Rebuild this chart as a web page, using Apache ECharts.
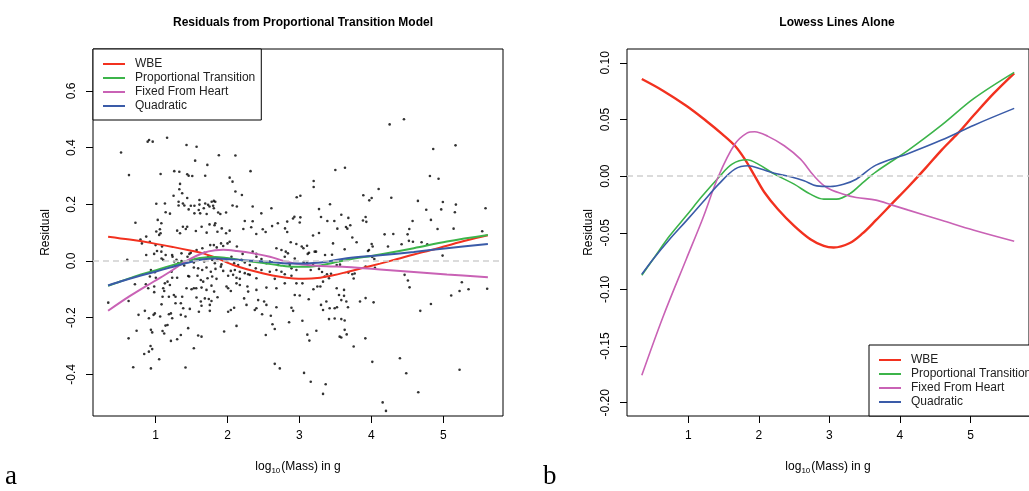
<!DOCTYPE html>
<html>
<head>
<meta charset="utf-8">
<script src="https://cdn.jsdelivr.net/npm/echarts@6/dist/echarts.min.js"></script>
<style>
html, body { margin: 0; padding: 0; background: #ffffff; }
#chart { width: 1029px; height: 491px; }
</style>
</head>
<body>
<div id="chart"></div>
<script>
const SERIES_META = {
  wbe: { label: 'WBE', color: '#f2311f' },
  prop: { label: 'Proportional Transition', color: '#3cb44a' },
  heart: { label: 'Fixed From Heart', color: '#c962b5' },
  quad: { label: 'Quadratic', color: '#3a5ba8' }
}

const xTicks = [1, 2, 3, 4, 5]
const leftYTicks = [-0.4, -0.2, 0, 0.2, 0.4, 0.6]
const rightYTicks = [-0.2, -0.15, -0.1, -0.05, 0, 0.05, 0.1]

// residuals vs log10 mass
const residualPoints = [
  [0.52,0.383],[0.63,0.303],[0.89,0.421],[0.91,0.427],[0.96,0.421],[1.16,0.435],[1.43,0.409],[1.57,0.403],[1.55,0.354],[1.88,0.373],
  [2.11,0.372],[1.72,0.339],[1.07,0.307],[1.26,0.317],[1.33,0.315],[1.44,0.306],[1.46,0.301],[1.51,0.300],[1.69,0.301],[2.03,0.294],
  [2.07,0.280],[1.34,0.272],[2.32,0.317],[2.11,0.245],[2.20,0.233],[1.33,0.253],[1.25,0.230],[1.37,0.239],[1.44,0.222],[1.01,0.202],
  [1.13,0.203],[1.32,0.209],[1.38,0.203],[1.32,0.196],[1.40,0.196],[1.49,0.195],[1.54,0.195],[1.61,0.215],[1.61,0.199],[1.69,0.203],
  [1.67,0.186],[1.73,0.198],[1.75,0.192],[1.78,0.209],[1.81,0.212],[1.83,0.209],[1.80,0.195],[1.81,0.186],[2.07,0.196],[2.13,0.192],
  [2.35,0.192],[2.61,0.186],[2.47,0.168],[1.14,0.172],[1.20,0.167],[1.03,0.145],[1.08,0.133],[0.72,0.135],[1.54,0.168],[1.46,0.182],
  [1.60,0.180],[1.62,0.168],[1.71,0.166],[1.87,0.171],[1.90,0.166],[1.98,0.171],[2.24,0.141],[2.35,0.140],[2.70,0.133],[2.83,0.139],
  [1.01,0.104],[1.06,0.112],[1.05,0.092],[1.07,0.098],[1.30,0.107],[1.34,0.098],[1.38,0.121],[1.42,0.113],[1.44,0.121],[1.56,0.106],
  [1.64,0.121],[1.71,0.100],[1.75,0.129],[1.82,0.126],[1.86,0.103],[1.83,0.133],[1.92,0.115],[1.98,0.098],[2.03,0.107],[2.22,0.113],
  [2.33,0.119],[2.40,0.095],[2.49,0.112],[2.53,0.102],[2.62,0.123],[2.80,0.115],[2.83,0.102],[0.87,0.086],[0.79,0.076],
  [0.81,0.062],[0.92,0.068],[1.00,0.056],[1.09,0.051],[1.02,0.035],[1.08,0.033],[0.87,0.021],[0.98,0.025],[1.14,0.021],[1.23,0.021],
  [1.36,0.027],[1.47,0.025],[1.49,0.029],[1.57,0.039],[1.65,0.045],[1.68,0.029],[1.81,0.056],[1.85,0.048],[1.76,0.056],[1.91,0.062],
  [1.94,0.053],[2.00,0.062],[2.03,0.068],[2.13,0.051],[2.21,0.025],[2.35,0.033],[2.40,0.025],[2.68,0.045],[2.75,0.039],[2.81,0.033],[2.84,0.027],
  [0.606,0.004],[1.083,0.009],[1.106,0.004],[1.236,0.015],[1.259,-0.002],[1.291,0.004],[1.314,-0.008],[1.361,0.0],[1.407,-0.002],[1.444,0.015],
  [1.532,-0.005],[1.532,-0.023],[0.935,-0.032],[0.99,-0.040],[1.222,-0.038],[1.268,-0.014],[1.338,-0.012],[1.398,-0.016],[1.004,-0.059],[0.713,-0.082],
  [0.865,-0.082],[0.898,-0.096],[0.921,-0.055],[0.981,-0.090],[1.129,-0.079],[1.166,-0.073],[1.106,-0.096],[1.12,-0.106],[1.199,-0.085],[1.231,-0.059],
  [1.3,-0.059],[1.254,-0.120],[1.277,-0.126],[1.185,-0.126],[1.453,-0.053],[1.467,-0.055],[1.5,-0.100],[1.532,-0.096],[1.43,-0.096],[1.37,-0.126],
  [0.981,-0.110],[1.097,-0.126],[0.342,-0.147],[0.625,-0.141],[1.083,-0.153],[1.277,-0.149],[1.351,-0.149],[1.384,-0.167],[1.476,-0.169],[0.851,-0.176],
  [0.763,-0.190],[0.907,-0.202],[0.972,-0.190],[0.99,-0.185],[1.064,-0.196],[1.185,-0.188],[1.213,-0.185],[1.231,-0.202],[1.351,-0.190],[1.416,-0.196],
  [1.166,-0.226],[1.138,-0.228],[1.453,-0.237],[0.736,-0.246],[0.935,-0.243],[0.953,-0.252],[1.097,-0.247],[1.12,-0.256],[0.625,-0.273],[1.213,-0.282],
  [1.3,-0.276],[1.351,-0.261],[1.532,-0.308],[0.93,-0.300],[0.953,-0.311],[0.907,-0.320],[0.842,-0.328],[1.05,-0.347],[0.689,-0.375],[0.935,-0.379],[1.416,-0.376],
  [1.569,0.004],[1.615,0.009],[1.676,-0.002],[1.731,0.015],[1.787,0.004],[1.824,-0.008],[1.861,0.007],[1.916,-0.012],[1.986,-0.002],[2.055,0.015],
  [2.092,-0.008],[2.148,-0.014],[2.194,0.004],[2.24,-0.005],[2.31,-0.014],[2.356,0.0],[2.402,0.015],[2.472,0.007],[2.541,-0.008],[2.588,-0.002],
  [2.703,-0.014],[2.796,0.015],[2.865,-0.014],[2.935,0.009],[1.592,-0.026],[1.648,-0.032],[1.708,-0.023],[1.768,-0.038],[1.833,-0.028],[1.907,-0.020],
  [1.94,-0.035],[2.046,-0.035],[2.102,-0.032],[2.171,-0.038],[2.24,-0.043],[2.31,-0.049],[2.393,-0.026],[2.472,-0.032],[2.588,-0.038],[2.68,-0.032],
  [2.75,-0.038],[2.889,-0.026],[2.958,-0.032],[1.583,-0.052],[1.629,-0.067],[1.662,-0.073],[1.722,-0.061],[1.787,-0.055],[1.847,-0.063],[2.009,-0.052],
  [2.078,-0.049],[2.125,-0.059],[2.171,-0.063],[2.287,-0.047],[2.402,-0.061],[2.657,-0.063],[2.796,-0.047],[2.889,-0.052],[1.565,-0.096],[1.639,-0.094],
  [1.708,-0.102],[1.777,-0.087],[1.814,-0.108],[1.986,-0.090],[2.009,-0.096],[2.046,-0.106],[2.125,-0.079],[2.171,-0.085],[2.277,-0.090],[2.402,-0.102],
  [2.541,-0.094],[2.68,-0.096],[2.796,-0.079],[2.958,-0.079],[1.569,-0.129],[1.629,-0.143],[1.685,-0.132],[1.74,-0.134],[1.777,-0.141],[1.861,-0.128],
  [1.754,-0.155],[1.639,-0.158],[2.009,-0.179],[2.046,-0.173],[2.092,-0.165],[2.231,-0.132],[2.264,-0.155],[2.426,-0.138],[2.509,-0.143],[2.541,-0.155],
  [1.602,-0.179],[1.754,-0.176],[2.287,-0.108],[2.379,-0.173],[2.402,-0.167],[2.481,-0.188],[2.602,-0.193],[2.68,-0.163],[2.889,-0.165],[2.912,-0.176],
  [2.935,-0.120],[2.125,-0.229],[1.953,-0.249],[2.532,-0.261],[2.625,-0.223],[2.657,-0.240],[2.856,-0.216],[1.592,-0.263],[1.639,-0.267],[2.657,-0.363],[2.727,-0.379],
  [4.254,0.482],[4.453,0.500],[4.86,0.395],[5.17,0.408],[3.499,0.321],[3.633,0.329],[3.198,0.282],[3.198,0.261],[4.814,0.300],[4.934,0.290],
  [2.962,0.225],[3.013,0.230],[3.888,0.232],[4.101,0.254],[4.004,0.222],[3.971,0.214],[4.277,0.223],[4.647,0.212],[3.425,0.200],[3.272,0.183],
  [4.763,0.181],[4.994,0.208],[5.175,0.199],[4.971,0.182],[5.161,0.172],[5.587,0.186],[2.911,0.150],[2.93,0.156],[3.013,0.154],[3.004,0.136],
  [3.3,0.155],[3.388,0.141],[3.485,0.141],[3.582,0.163],[3.68,0.152],[3.883,0.143],[3.92,0.155],[3.93,0.138],[4.573,0.141],[4.828,0.145],
  [3.189,0.090],[3.272,0.099],[3.527,0.114],[3.647,0.120],[3.666,0.114],[3.707,0.126],[3.735,0.083],[4.184,0.094],[4.305,0.095],[4.504,0.094],
  [4.527,0.113],[4.92,0.113],[5.143,0.114],[5.541,0.105],
  [3.795,0.066],[4.522,0.071],[4.578,0.068],[4.698,0.066],[4.777,0.059],[4.42,0.059],[4.231,0.051],[4.004,0.060],[4.018,0.051],[3.953,0.035],
  [3.967,0.039],[3.629,0.041],[3.467,0.062],[3.231,0.033],[2.957,0.060],[2.879,0.066],[3.032,0.051],[3.055,0.045],[3.106,0.054],[3.133,0.029],
  [3.212,0.033],[3.356,0.021],[3.115,0.025],[3.059,-0.005],[3.106,-0.006],[3.157,-0.032],[3.189,-0.014],[3.272,-0.028],[3.314,-0.039],[3.351,-0.055],
  [3.383,-0.047],[3.411,-0.061],[3.439,-0.045],[3.453,0.022],[3.518,-0.014],[3.564,-0.013],[3.68,-0.041],[3.735,-0.047],[3.754,-0.062],[3.768,-0.044],
  [3.92,-0.020],[4.013,0.014],[4.041,0.007],[4.05,-0.024],[4.99,0.019],[4.462,-0.049],[4.508,-0.069],[4.531,-0.093],[3.041,-0.079],[3.004,-0.122],
  [3.129,-0.135],[3.194,-0.100],[3.249,-0.090],[3.291,-0.090],[3.328,-0.073],[3.518,-0.096],[3.55,-0.120],[3.582,-0.138],[3.62,-0.102],[3.62,-0.123],
  [3.652,-0.143],[3.3,-0.155],[3.328,-0.173],[3.374,-0.143],[3.42,-0.167],[3.49,-0.167],[3.522,-0.163],[3.675,-0.163],[3.842,-0.143],[3.92,-0.131],
  [4.031,-0.146],[3.041,-0.211],[3.11,-0.260],[3.138,-0.281],[3.235,-0.246],[3.411,-0.205],[3.49,-0.203],[3.582,-0.205],[3.629,-0.210],[3.629,-0.243],
  [3.559,-0.267],[3.582,-0.270],[3.657,-0.259],[3.754,-0.302],[3.916,-0.273],[4.68,-0.176],[4.828,-0.152],[5.11,-0.122],[5.226,-0.106],[5.258,-0.075],
  [5.351,-0.100],[5.61,-0.098],[3.064,-0.395],[3.157,-0.426],[3.365,-0.435],[3.328,-0.469],[4.013,-0.356],[4.397,-0.343],[4.485,-0.396],[4.652,-0.463],
  [4.157,-0.499],[4.203,-0.529],[5.226,-0.384]
]

// lowess fits
const wbeLowess = [
  [0.34,0.0857],[0.64,0.0754],[0.97,0.0621],[1.25,0.0489],[1.48,0.0371],[1.66,0.0268],[1.80,0.0150],[1.94,0.0003],
  [2.08,-0.0144],[2.27,-0.0292],[2.50,-0.0439],[2.73,-0.0557],[2.92,-0.0616],[3.06,-0.0630],[3.29,-0.0590],[3.47,-0.0506],
  [3.66,-0.0389],[3.89,-0.0241],[4.12,-0.0094],[4.36,0.0068],[4.59,0.0230],[4.82,0.0377],[5.05,0.0539],[5.33,0.0730],[5.62,0.0907]
]
const propLowess = [
  [0.34,-0.0875],[0.50,-0.0733],[0.735,-0.0527],[0.97,-0.035],[1.20,-0.0174],[1.43,-0.0012],[1.62,0.0106],[1.83,0.0144],
  [1.99,0.0106],[2.22,0.0018],[2.50,-0.0071],[2.73,-0.0159],[2.92,-0.0203],[3.10,-0.0203],[3.29,-0.0155],[3.47,-0.006],
  [3.66,0.0038],[4.12,0.023],[4.59,0.045],[5.05,0.0686],[5.62,0.0916]
]
const heartLowess = [
  [0.34,-0.1758],[0.64,-0.1243],[0.97,-0.0733],[1.20,-0.038],[1.43,0.0003],[1.66,0.0283],[1.83,0.038],[1.94,0.0392],
  [2.13,0.0351],[2.36,0.0268],[2.59,0.015],[2.78,0.0003],[2.96,-0.010],[3.20,-0.0159],[3.38,-0.0188],[3.66,-0.0212],
  [3.89,-0.0256],[4.12,-0.030],[4.59,-0.0389],[5.05,-0.0477],[5.62,-0.0574]
]
const quadLowess = [
  [0.34,-0.0866],[0.50,-0.0733],[0.735,-0.0557],[0.97,-0.0395],[1.20,-0.0233],[1.43,-0.0071],[1.66,0.0062],[1.85,0.0091],
  [2.03,0.0062],[2.22,0.0026],[2.45,-0.0006],[2.64,-0.0041],[2.82,-0.0086],[3.01,-0.0091],[3.20,-0.0071],[3.38,-0.0027],
  [3.66,0.0097],[4.12,0.020],[4.59,0.0318],[5.05,0.045],[5.62,0.0598]
]

const FONT = '"Liberation Sans", Arial, sans-serif'
const LEGEND_NAMES = [SERIES_META.wbe.label, SERIES_META.prop.label, SERIES_META.heart.label, SERIES_META.quad.label]

function makeXAxis(gridIndex) {
  return {
    gridIndex,
    type: 'value',
    min: 0.13,
    max: 5.83,
    axisLine: { show: false, onZero: false },
    splitLine: { show: false },
    axisTick: { customValues: xTicks, length: 7, lineStyle: { color: '#000' } },
    axisLabel: { customValues: xTicks, margin: 14, fontSize: 12, color: '#000', fontFamily: FONT },
    name: '{n|log}{s|10}{n|(Mass) in g}',
    nameLocation: 'middle',
    nameGap: 43,
    nameTextStyle: {
      color: '#000',
      fontFamily: FONT,
      rich: {
        n: { fontSize: 12, fontFamily: FONT, color: '#000', lineHeight: 16 },
        s: { fontSize: 8, fontFamily: FONT, color: '#000', lineHeight: 16, verticalAlign: 'bottom', padding: [0, 1, 0, 0] }
      }
    }
  }
}

function makeYAxis(gridIndex, min, max, ticks, digits, nameGap) {
  return {
    gridIndex,
    type: 'value',
    min,
    max,
    axisLine: { show: false, onZero: false },
    splitLine: { show: false },
    axisTick: { customValues: ticks, length: 7, lineStyle: { color: '#000' } },
    axisLabel: {
      customValues: ticks,
      rotate: 90,
      margin: 15,
      fontSize: 12,
      color: '#000',
      fontFamily: FONT,
      formatter: v => Number(v).toFixed(digits)
    },
    name: 'Residual',
    nameLocation: 'middle',
    nameGap,
    nameTextStyle: { fontSize: 12, color: '#000', fontFamily: FONT }
  }
}

function makeLegend(left, top) {
  return {
    data: LEGEND_NAMES,
    left,
    top,
    orient: 'vertical',
    icon: 'rect',
    itemWidth: 22,
    itemHeight: 2,
    itemGap: 0,
    padding: [8, 6, 7, 10],
    borderColor: '#000',
    borderWidth: 1,
    borderRadius: 0,
    backgroundColor: '#fff',
    selectedMode: false,
    textStyle: { fontSize: 12, color: '#222', fontFamily: FONT, lineHeight: 14, padding: [0, 0, 0, 5] }
  }
}

function lowessSeries(key, data, axisIndex, width) {
  const meta = SERIES_META[key]
  return {
    name: meta.label,
    type: 'line',
    xAxisIndex: axisIndex,
    yAxisIndex: axisIndex,
    data,
    smooth: 0.35,
    symbol: 'none',
    silent: true,
    itemStyle: { color: meta.color },
    lineStyle: { color: meta.color, width }
  }
}

const zeroLine = {
  silent: true,
  symbol: 'none',
  label: { show: false },
  lineStyle: { color: '#cfcfcf', type: [6, 4], width: 1.5 },
  data: [{ yAxis: 0 }]
}

const chart = echarts.init(document.getElementById('chart'))

chart.setOption({
  animation: false,
  backgroundColor: '#fff',
  title: [
    {
      text: 'Residuals from Proportional Transition Model',
      left: 298,
      top: 12,
      textAlign: 'center',
      textStyle: { fontSize: 12, fontWeight: 'bold', color: '#000', fontFamily: FONT }
    },
    {
      text: 'Lowess Lines Alone',
      left: 832,
      top: 12,
      textAlign: 'center',
      textStyle: { fontSize: 12, fontWeight: 'bold', color: '#000', fontFamily: FONT }
    }
  ],
  legend: [makeLegend(93, 49), makeLegend(869, 345)],
  grid: [
    { left: 93, top: 49, width: 410, height: 367, show: true, borderColor: '#000', borderWidth: 1 },
    { left: 627, top: 49, width: 410, height: 367, show: true, borderColor: '#000', borderWidth: 1 }
  ],
  xAxis: [makeXAxis(0), makeXAxis(1)],
  yAxis: [
    makeYAxis(0, -0.547, 0.748, leftYTicks, 1, 41),
    makeYAxis(1, -0.2117, 0.1122, rightYTicks, 2, 32)
  ],
  series: [
    {
      name: 'residuals',
      type: 'scatter',
      xAxisIndex: 0,
      yAxisIndex: 0,
      data: residualPoints,
      symbolSize: 2.6,
      silent: true,
      itemStyle: { color: '#000' },
      markLine: zeroLine
    },
    lowessSeries('wbe', wbeLowess, 0, 2),
    lowessSeries('prop', propLowess, 0, 2),
    lowessSeries('heart', heartLowess, 0, 2),
    lowessSeries('quad', quadLowess, 0, 2),
    {
      name: 'zero',
      type: 'line',
      xAxisIndex: 1,
      yAxisIndex: 1,
      data: [],
      silent: true,
      markLine: zeroLine
    },
    lowessSeries('wbe', wbeLowess, 1, 2.4),
    lowessSeries('prop', propLowess, 1, 1.6),
    lowessSeries('heart', heartLowess, 1, 1.6),
    lowessSeries('quad', quadLowess, 1, 1.6)
  ],
  graphic: [
    { type: 'text', left: 5, top: 463, style: { text: 'a', font: '27px "Liberation Serif", "DejaVu Serif", serif', fill: '#000' } },
    { type: 'text', left: 543, top: 463, style: { text: 'b', font: '27px "Liberation Serif", "DejaVu Serif", serif', fill: '#000' } }
  ]
})
</script>
</body>
</html>
